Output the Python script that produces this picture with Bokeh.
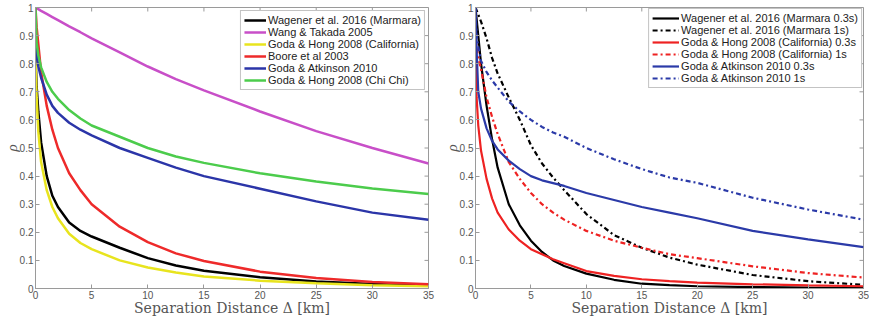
import math
from bokeh.plotting import figure
from bokeh.layouts import row
from bokeh.models import Legend, LegendItem, FixedTicker, Range1d
from bokeh.embed import file_html
from bokeh.resources import INLINE

# ---- left panel: correlation models ----
dist_left = [0, 0.1, 0.25, 0.5, 1, 1.5, 2, 3, 4, 5, 7.5, 10, 12.5, 15, 20, 25, 30, 35]
wagener_marmara = [0.83, 0.72, 0.63, 0.52, 0.40, 0.33, 0.29, 0.235, 0.205, 0.185, 0.145, 0.108, 0.082, 0.063, 0.040, 0.025, 0.016, 0.011]
wang_takada = [1.0, 0.998, 0.994, 0.988, 0.977, 0.966, 0.955, 0.933, 0.912, 0.89, 0.84, 0.79, 0.745, 0.705, 0.63, 0.56, 0.50, 0.445]
goda_hong_california = [0.82, 0.68, 0.56, 0.45, 0.35, 0.29, 0.25, 0.195, 0.162, 0.14, 0.10, 0.075, 0.057, 0.043, 0.028, 0.019, 0.012, 0.008]
boore_2003 = [1.0, 0.93, 0.87, 0.77, 0.65, 0.565, 0.50, 0.41, 0.35, 0.30, 0.22, 0.165, 0.125, 0.098, 0.06, 0.037, 0.023, 0.015]
goda_atkinson = [0.88, 0.83, 0.79, 0.75, 0.69, 0.65, 0.625, 0.59, 0.565, 0.545, 0.50, 0.465, 0.43, 0.40, 0.355, 0.31, 0.27, 0.245]
goda_hong_chichi = [1.0, 0.875, 0.83, 0.787, 0.735, 0.70, 0.675, 0.635, 0.605, 0.58, 0.54, 0.50, 0.47, 0.447, 0.41, 0.381, 0.356, 0.336]

# ---- right panel: period dependence ----
dist_right = [0, 0.1, 0.25, 0.5, 1, 1.5, 2, 3, 4, 5, 6, 7, 8, 10, 12.5, 15, 17.5, 20, 25, 30, 35]
wagener_03s = [1.0, 0.96, 0.90, 0.80, 0.65, 0.53, 0.43, 0.30, 0.225, 0.17, 0.13, 0.10, 0.08, 0.053, 0.031, 0.017, 0.012, 0.008, 0.005, 0.003, 0.002]
wagener_1s = [1.0, 0.99, 0.975, 0.95, 0.89, 0.82, 0.765, 0.68, 0.60, 0.51, 0.445, 0.395, 0.35, 0.265, 0.19, 0.145, 0.11, 0.085, 0.048, 0.026, 0.013]
gh_california_03s = [0.85, 0.68, 0.58, 0.49, 0.39, 0.32, 0.27, 0.21, 0.17, 0.14, 0.122, 0.104, 0.09, 0.062, 0.045, 0.033, 0.026, 0.021, 0.015, 0.011, 0.008]
gh_california_1s = [0.90, 0.86, 0.82, 0.78, 0.68, 0.61, 0.55, 0.45, 0.39, 0.34, 0.30, 0.27, 0.245, 0.205, 0.17, 0.145, 0.122, 0.108, 0.079, 0.055, 0.039]
ga_03s = [1.0, 0.85, 0.70, 0.64, 0.57, 0.525, 0.495, 0.455, 0.425, 0.40, 0.385, 0.375, 0.365, 0.34, 0.315, 0.29, 0.27, 0.25, 0.205, 0.175, 0.147]
ga_1s = [1.0, 0.90, 0.86, 0.81, 0.77, 0.74, 0.715, 0.665, 0.63, 0.60, 0.575, 0.555, 0.54, 0.50, 0.46, 0.425, 0.395, 0.376, 0.323, 0.281, 0.245]

x_ticks = [0, 5, 10, 15, 20, 25, 30, 35]
y_ticks = [0, 0.1, 0.2, 0.3, 0.4, 0.5, 0.6, 0.7, 0.8, 0.9, 1]
y_tick_labels = {0: "0", 0.1: "0.1", 0.2: "0.2", 0.3: "0.3", 0.4: "0.4", 0.5: "0.5",
                 0.6: "0.6", 0.7: "0.7", 0.8: "0.8", 0.9: "0.9", 1: "1"}

X_MIN, X_MAX = 0, 35
Y_MIN, Y_MAX = 0, 1

AXIS_GRAY = "#9a9a9a"
TICK_TEXT = "#555555"
DASHDOT = "5 3 2 3"


def make_panel(width, border_left, border_right):
    p = figure(width=width, height=324, x_range=Range1d(X_MIN, X_MAX), y_range=Range1d(Y_MIN, Y_MAX),
               output_backend="svg", toolbar_location=None,
               min_border_left=border_left, min_border_right=border_right,
               min_border_top=7, min_border_bottom=36)
    p.grid.visible = False
    p.outline_line_color = AXIS_GRAY
    p.background_fill_color = "white"
    p.border_fill_color = "white"

    for ax in (p.xaxis[0], p.yaxis[0]):
        ax.axis_line_color = AXIS_GRAY
        ax.major_tick_line_color = AXIS_GRAY
        ax.major_tick_in = 4
        ax.major_tick_out = 0
        ax.minor_tick_line_color = None
        ax.major_label_text_font = "Liberation Sans"
        ax.major_label_text_font_size = "10px"
        ax.major_label_text_color = TICK_TEXT

    p.xaxis.ticker = FixedTicker(ticks=x_ticks)
    p.xaxis.major_label_standoff = 2
    p.xaxis.axis_label = "Separation Distance Δ [km]"
    p.xaxis.axis_label_text_font = "DejaVu Serif"
    p.xaxis.axis_label_text_font_size = "14px"
    p.xaxis.axis_label_text_font_style = "normal"
    p.xaxis.axis_label_text_color = "#555555"
    p.xaxis.axis_label_standoff = -2

    p.yaxis.ticker = FixedTicker(ticks=y_ticks)
    p.yaxis.major_label_overrides = y_tick_labels
    p.yaxis.major_label_standoff = 2
    p.yaxis.axis_label = "ρ"
    p.yaxis.axis_label_text_font = "Liberation Serif"
    p.yaxis.axis_label_text_font_size = "15px"
    p.yaxis.axis_label_text_font_style = "italic"
    p.yaxis.axis_label_text_color = "#555555"
    p.yaxis.axis_label_standoff = -3

    # inward tick marks along the top and right edges of the box
    p.ray(x=x_ticks, y=[Y_MAX] * len(x_ticks), length=4, length_units="screen",
          angle=-math.pi / 2, line_color=AXIS_GRAY, line_width=1)
    p.ray(x=[X_MAX] * len(y_ticks), y=y_ticks, length=4, length_units="screen",
          angle=math.pi, line_color=AXIS_GRAY, line_width=1)
    return p


def style_legend(leg, margin):
    leg.location = "top_right"
    leg.margin = margin
    leg.padding = 3
    leg.spacing = 0
    leg.glyph_height = 12
    leg.label_height = 12
    leg.label_standoff = 2
    leg.label_text_font = "Liberation Sans"
    leg.label_text_font_size = "11px"
    leg.label_text_color = "#222222"
    leg.border_line_color = "#888888"
    leg.border_line_width = 1
    leg.background_fill_alpha = 1.0


# left panel
p1 = make_panel(440, 35, 12)
left_series = [
    ("Wagener et al. 2016 (Marmara)", wagener_marmara, "#000000"),
    ("Wang & Takada 2005", wang_takada, "#c84fc8"),
    ("Goda & Hong 2008 (California)", goda_hong_california, "#e8e41e"),
    ("Boore et al 2003", boore_2003, "#ee2a2a"),
    ("Goda & Atkinson 2010", goda_atkinson, "#2b35a8"),
    ("Goda & Hong 2008 (Chi Chi)", goda_hong_chichi, "#4ccc4c"),
]
items1 = []
for label, ys, color in left_series:
    r = p1.line(dist_left, ys, line_color=color, line_width=2.5)
    items1.append(LegendItem(label=label, renderers=[r]))
leg1 = Legend(items=items1)
style_legend(leg1, 3)
leg1.glyph_width = 22
p1.add_layout(leg1)

# right panel
p2 = make_panel(429, 32, 6)
right_series = [
    ("Wagener et al. 2016 (Marmara 0.3s)", wagener_03s, "#000000", "solid"),
    ("Wagener et al. 2016 (Marmara 1s)", wagener_1s, "#000000", DASHDOT),
    ("Goda & Hong 2008 (California) 0.3s", gh_california_03s, "#ee2222", "solid"),
    ("Goda & Hong 2008 (California) 1s", gh_california_1s, "#ee2222", DASHDOT),
    ("Goda & Atkinson 2010 0.3s", ga_03s, "#2b3aa8", "solid"),
    ("Goda & Atkinson 2010 1s", ga_1s, "#2b3aa8", DASHDOT),
]
items2 = []
for label, ys, color, dash in right_series:
    r = p2.line(dist_right, ys, line_color=color, line_width=2.2, line_dash=dash)
    items2.append(LegendItem(label=label, renderers=[r]))
leg2 = Legend(items=items2)
style_legend(leg2, 1)
leg2.glyph_width = 27
p2.add_layout(leg2)

layout = row(p1, p2)
open("out.html", "w").write(file_html(layout, INLINE))
